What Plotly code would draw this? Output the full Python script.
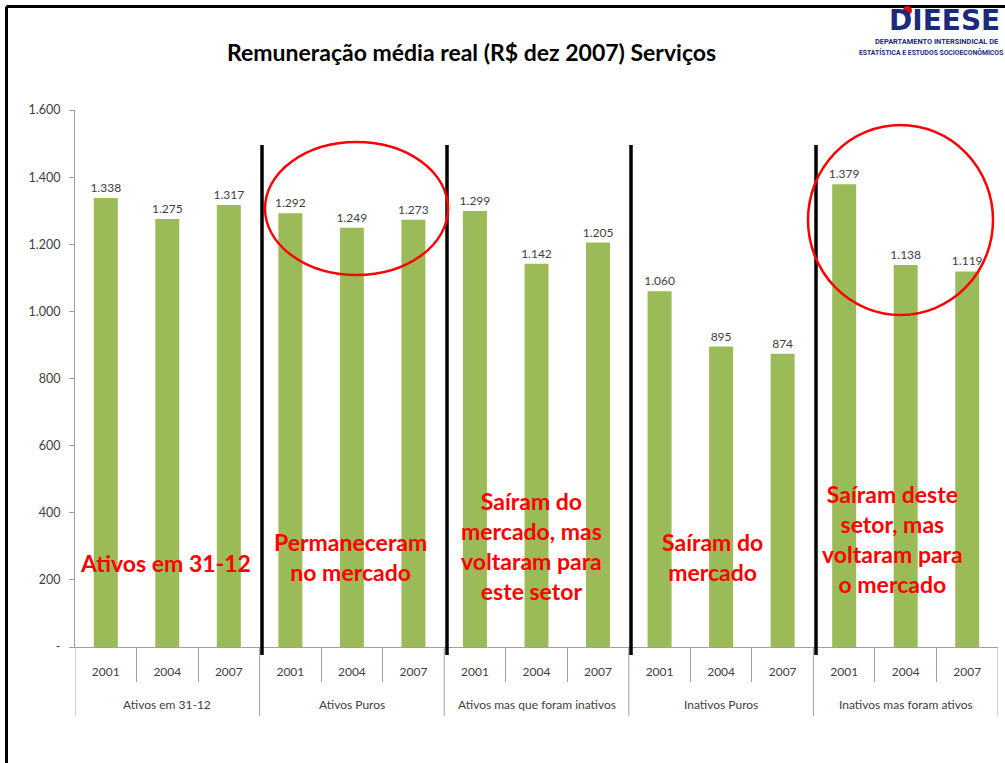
import plotly.graph_objects as go

groups = ["Ativos em 31-12", "Ativos Puros", "Ativos mas que foram inativos",
          "Inativos Puros", "Inativos mas foram ativos"]
years = ["2001", "2004", "2007"]
ativos_31_12 = [1338, 1275, 1317]
ativos_puros = [1292, 1249, 1273]
ativos_ex_inativos = [1299, 1142, 1205]
inativos_puros = [1060, 895, 874]
inativos_ex_ativos = [1379, 1138, 1119]

y_tickvals = [0, 200, 400, 600, 800, 1000, 1200, 1400, 1600]
y_ticktext = ["-", "200", "400", "600", "800", "1.000", "1.200", "1.400", "1.600"]

series = [ativos_31_12, ativos_puros, ativos_ex_inativos, inativos_puros, inativos_ex_ativos]
xs, labels, vals = [], [], []
i = 0
for g, s in zip(groups, series):
    for yr, v in zip(years, s):
        xs.append(i)
        labels.append(yr)
        vals.append(v)
        i += 1
n = len(xs)
ny = len(years)

def fmt(v):
    return f"{v:,}".replace(",", ".")

FONT = "Lato, 'Open Sans', sans-serif"
GRAY = "#A0A0A0"
NAVY = "#1B2A7B"

fig = go.Figure(go.Bar(
    x=xs, y=vals, width=0.39,
    marker=dict(color="#9BBB59", line=dict(width=0)),
    text=[fmt(v) for v in vals], textposition="outside", constraintext="none",
    textfont=dict(size=12, color="#404040", family=FONT),
    cliponaxis=False, hoverinfo="skip",
))

fig.update_layout(
    width=1005, height=763,
    margin=dict(l=75, r=7, t=110, b=116),
    paper_bgcolor="white", plot_bgcolor="white",
    showlegend=False,
    font=dict(family=FONT, color="#404040", size=12),
    xaxis=dict(range=[-0.5, n - 0.5], tickvals=xs, ticktext=labels,
               showline=True, linecolor=GRAY, linewidth=1,
               ticks="", showgrid=False, zeroline=False, ticklabelstandoff=14,
               minor=dict(tickvals=[k + 0.5 for k in range(n - 1) if (k + 1) % ny != 0],
                          ticks="outside", ticklen=34, tickcolor=GRAY, showgrid=False),
               tickfont=dict(size=12, color="#404040")),
    yaxis=dict(range=[0, 1600], tickvals=y_tickvals, ticktext=y_ticktext,
               showline=True, linecolor=GRAY, linewidth=1,
               ticks="outside", ticklen=5, tickcolor=GRAY,
               showgrid=False, zeroline=False, ticklabelstandoff=6,
               tickfont=dict(size=12.5, color="#404040")),
)

shapes = []
# group dividers below axis
for k in range(len(groups) + 1):
    xb = k * ny - 0.5
    shapes.append(dict(type="line", xref="x", yref="paper", x0=xb, x1=xb, y0=0, y1=-69 / 537,
                       line=dict(color=GRAY, width=1)))
# frame lines
top = (647 - 6.5) / 537
left = (6.5 - 75) / 923
shapes.append(dict(type="line", xref="paper", yref="paper", x0=left, x1=1.01, y0=top, y1=top,
                   line=dict(color="black", width=3)))
shapes.append(dict(type="line", xref="paper", yref="paper", x0=left, x1=left, y0=top, y1=-0.25,
                   line=dict(color="black", width=3)))
# thick separators drawn on slide
for px in [262, 447, 631, 816]:
    xp = (px - 75) / 923
    shapes.append(dict(type="line", xref="paper", yref="paper", x0=xp, x1=xp, y0=-0.015, y1=0.935,
                       line=dict(color="black", width=3.5)))
# ellipses
shapes.append(dict(type="circle", xref="paper", yref="paper", x0=(265-75)/923, x1=(448-75)/923,
                   y0=(647-275)/537, y1=(647-142)/537, line=dict(color="#FF0000", width=2.5)))
shapes.append(dict(type="circle", xref="paper", yref="paper", x0=(808-75)/923, x1=(993-75)/923,
                   y0=(647-315)/537, y1=(647-125)/537, line=dict(color="#FF0000", width=2.5)))
fig.update_layout(shapes=shapes)

def px2p(x, y):
    return (x - 75) / 923, (647 - y) / 537

ann = []
# group labels
for gi, g in enumerate(groups):
    ann.append(dict(text=g, x=gi * ny + (ny - 1) / 2, y=-(704 - 647) / 537, xref="x", yref="paper",
                    showarrow=False, xanchor="center", yanchor="middle",
                    font=dict(size=12, color="#404040", family=FONT)))

red_texts = [
    ("Ativos em 31-12", 165, 563),
    ("Permaneceram<br>no mercado", 350, 557),
    ("Saíram do<br>mercado, mas<br>voltaram para<br>este setor", 531, 546),
    ("Saíram do<br>mercado", 712, 557),
    ("Saíram deste<br>setor, mas<br>voltaram para<br>o mercado", 892, 539),
]
for t, x, y in red_texts:
    xp, yp = px2p(x, y)
    ann.append(dict(text=t, x=xp, y=yp, xref="paper", yref="paper", showarrow=False,
                    xanchor="center", yanchor="middle",
                    font=dict(size=23, color="#FF0000", family=FONT, weight="bold")))
xp, yp = px2p(471, 52)
ann.append(dict(text="<b>Remuneração média real (R$ dez 2007) Serviços</b>", x=xp, y=yp,
                xref="paper", yref="paper", showarrow=False, xanchor="center", yanchor="middle",
                font=dict(size=23, color="black", family=FONT)))
# logo
xp, yp = px2p(944, 38)
ann.append(dict(text="<b>DIEESE</b>", x=xp, y=yp, xref="paper", yref="paper", showarrow=False,
                xanchor="center", yanchor="bottom", borderpad=0,
                font=dict(size=28, color=NAVY, family="'DejaVu Sans', sans-serif")))
xp, yp = px2p(936, 42)
ann.append(dict(text="<b>DEPARTAMENTO INTERSINDICAL DE</b>", x=xp, y=yp, xref="paper", yref="paper",
                showarrow=False, xanchor="center", yanchor="middle", borderpad=0,
                font=dict(size=7.4, color=NAVY, family="Roboto, sans-serif")))
xp, yp = px2p(931, 53)
ann.append(dict(text="<b>ESTATÍSTICA E ESTUDOS SOCIOECONÔMICOS</b>", x=xp, y=yp, xref="paper", yref="paper",
                showarrow=False, xanchor="center", yanchor="middle", borderpad=0,
                font=dict(size=6.8, color=NAVY, family="Roboto, sans-serif")))
fig.update_layout(annotations=ann)

# logo dot drawn above the I
fig.add_shape(type="circle", xref="paper", yref="paper", x0=(903-75)/923, x1=(912-75)/923,
              y0=(647-15)/537, y1=(647-6)/537, fillcolor="#E30613", line=dict(width=0))

fig.write_html("out.html", config={"displayModeBar": False},
               post_script="document.body.style.margin='0';")
